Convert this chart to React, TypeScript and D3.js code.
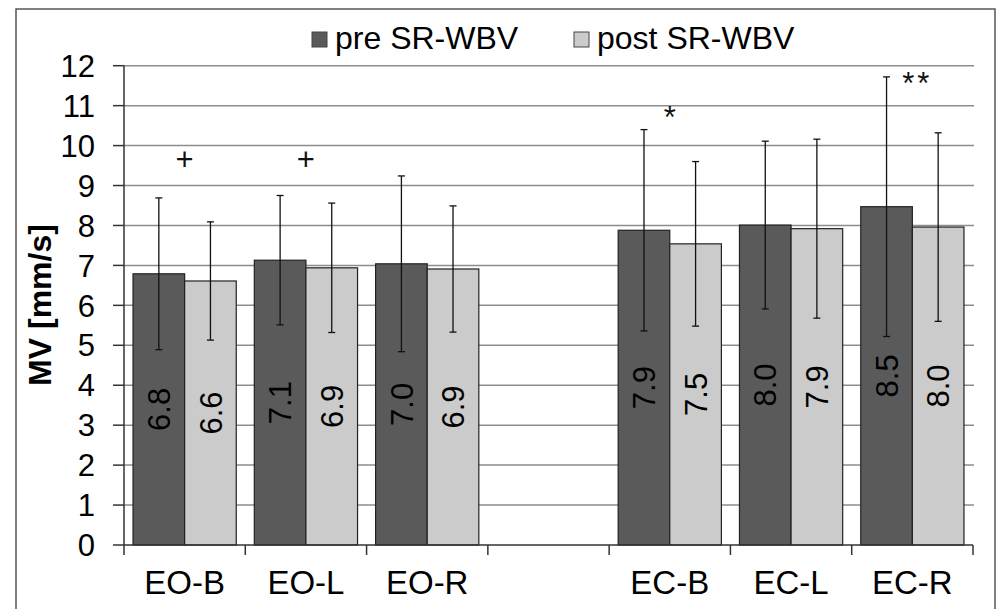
import * as d3 from 'd3';
import * as React from 'react';

// axis slots (one empty slot between the EO and EC groups)
const slots = ['EO-B', 'EO-L', 'EO-R', '', 'EC-B', 'EC-L', 'EC-R'];
const categories = ['EO-B', 'EO-L', 'EO-R', 'EC-B', 'EC-L', 'EC-R'];
const series = ['pre SR-WBV', 'post SR-WBV'];

const preMean = [6.79, 7.13, 7.04, 7.88, 8.01, 8.47];
const postMean = [6.61, 6.94, 6.91, 7.54, 7.92, 7.96];
const preSd = [1.9, 1.62, 2.2, 2.52, 2.1, 3.25];
const postSd = [1.48, 1.62, 1.58, 2.06, 2.24, 2.36];

// significance marks above each category
const marks = ['+', '+', '', '*', '', '**'];
const markLevel = [9.4, 9.4, 0, 10.45, 0, 11.3];

const yTicks = [0, 1, 2, 3, 4, 5, 6, 7, 8, 9, 10, 11, 12];

const font = 'Liberation Sans, Arial, sans-serif';
const colors = { pre: '#5a5a5a', post: '#cbcbcb' };

const App = () => {
  const width = 1000;
  const height = 609;
  const plot = { left: 124, right: 973, top: 65.7, bottom: 545 };

  const x = d3.scaleBand().domain(slots).range([plot.left, plot.right]).padding(0);
  const xSub = d3.scaleBand().domain(['pre', 'post']).range([0, x.bandwidth()]).paddingInner(0).paddingOuter(0.175);
  const y = d3.scaleLinear().domain([0, 12]).range([plot.bottom, plot.top]);

  const fmt = d3.format('.1f');

  const rows = categories.map((c, i) => ({
    cat: c,
    bars: [
      { key: 'pre', mean: preMean[i], sd: preSd[i] },
      { key: 'post', mean: postMean[i], sd: postSd[i] },
    ],
    mark: marks[i],
    level: markLevel[i],
  }));

  const tickXs = [...slots.map((s) => x(s) as number), plot.right];

  return (
    <svg width={width} height={height} style={{ position: 'absolute', left: 0, top: 0, background: '#fff' }} fontFamily={font}>
      <rect x={16} y={9} width={979} height={620} fill="#fff" stroke="#555" strokeWidth={1.5} />

      {/* gridlines */}
      {yTicks.slice(1).map((t) => (
        <line key={t} x1={plot.left} x2={plot.right + 1} y1={y(t)} y2={y(t)} stroke="#8c8c8c" strokeWidth={1.5} />
      ))}

      {/* y axis */}
      <line x1={plot.left} x2={plot.left} y1={plot.top} y2={plot.bottom} stroke="#333" strokeWidth={1.5} />
      {yTicks.map((t) => (
        <g key={t}>
          <line x1={plot.left - 11} x2={plot.left} y1={y(t)} y2={y(t)} stroke="#333" strokeWidth={1.5} />
          <text x={95} y={y(t)} dy="0.36em" textAnchor="end" fontSize={31} fill="#000">
            {t}
          </text>
        </g>
      ))}
      <text transform={`translate(51,305) rotate(-90)`} textAnchor="middle" fontSize={32} fontWeight="bold" fill="#000">
        MV [mm/s]
      </text>

      {/* bars */}
      {rows.map((r) => (
        <g key={r.cat} transform={`translate(${x(r.cat)},0)`}>
          {r.bars.map((b) => {
            const bx = xSub(b.key) as number;
            const cx = bx + xSub.bandwidth() / 2;
            return (
              <g key={b.key}>
                <rect
                  x={bx}
                  y={y(b.mean)}
                  width={xSub.bandwidth()}
                  height={y(0) - y(b.mean)}
                  fill={colors[b.key]}
                  stroke="#222"
                  strokeWidth={1.2}
                />
                <text
                  transform={`translate(${cx},${y(b.mean / 2)}) rotate(-90)`}
                  dy="0.36em"
                  textAnchor="middle"
                  fontSize={31}
                  fill="#000"
                >
                  {fmt(b.mean)}
                </text>
              </g>
            );
          })}
          {r.bars.map((b) => {
            const cx = (xSub(b.key) as number) + xSub.bandwidth() / 2;
            const hi = y(b.mean + b.sd);
            const lo = y(b.mean - b.sd);
            return (
              <g key={b.key + '-err'} stroke="#111" strokeWidth={1.3}>
                <line x1={cx} x2={cx} y1={hi} y2={lo} />
                <line x1={cx - 3.5} x2={cx + 3.5} y1={hi} y2={hi} />
                <line x1={cx - 3.5} x2={cx + 3.5} y1={lo} y2={lo} />
              </g>
            );
          })}
          {r.mark && (
            <text x={x.bandwidth() / 2 + (r.mark.length > 1 ? 5 : 0)} y={y(r.level)} textAnchor="middle" fontSize={31} fill="#111" letterSpacing={r.mark.length > 1 ? 3 : 0}>
              {r.mark}
            </text>
          )}
        </g>
      ))}

      {/* x axis */}
      <line x1={plot.left} x2={plot.right} y1={plot.bottom} y2={plot.bottom} stroke="#333" strokeWidth={1.5} />
      {tickXs.map((tx, i) => (
        <line key={i} x1={tx} x2={tx} y1={plot.bottom} y2={plot.bottom + 10} stroke="#333" strokeWidth={1.5} />
      ))}
      {categories.map((c) => (
        <text key={c} x={(x(c) as number) + x.bandwidth() / 2} y={594} textAnchor="middle" fontSize={33} fill="#000">
          {c}
        </text>
      ))}

      {/* legend */}
      {series.map((s, i) => {
        const lx = i === 0 ? 312 : 574;
        return (
          <g key={s}>
            <rect x={lx} y={32} width={15} height={15} fill={i === 0 ? colors.pre : colors.post} stroke="#444" strokeWidth={1} />
            <text x={lx + 23} y={49} fontSize={32} fill="#000">
              {s}
            </text>
          </g>
        );
      })}
    </svg>
  );
};

export default App;
